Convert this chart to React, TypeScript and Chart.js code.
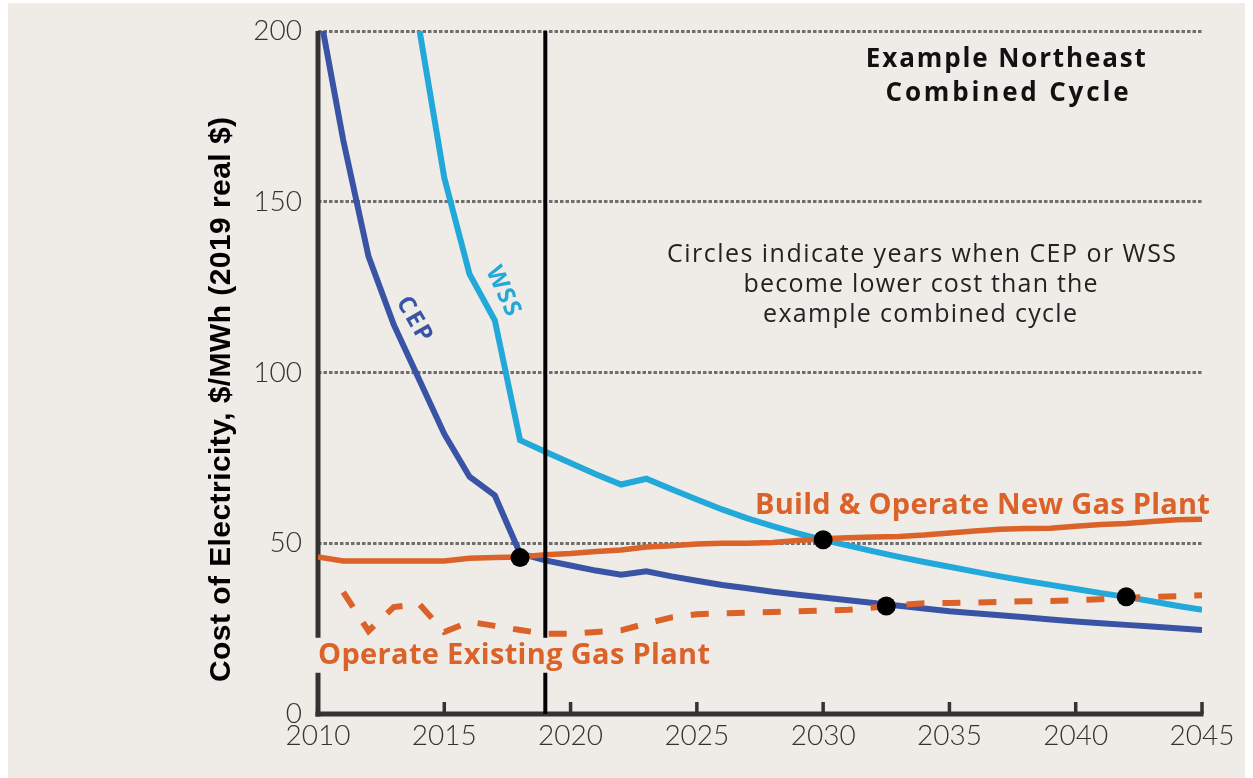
import React, { useEffect, useRef } from 'react';
import { Chart, registerables } from 'chart.js';

Chart.register(...registerables);

// ---------- data ----------
const years = [
  2010, 2011, 2012, 2013, 2014, 2015, 2016, 2017, 2018, 2019,
  2020, 2021, 2022, 2023, 2024, 2025, 2026, 2027, 2028, 2029,
  2030, 2031, 2032, 2033, 2034, 2035, 2036, 2037, 2038, 2039,
  2040, 2041, 2042, 2043, 2044, 2045,
];

const cepValues = [
  208, 168, 134, 114, 98, 82, 69.5, 64, 47, 45,
  43.5, 42, 40.8, 41.8, 40.3, 39, 37.8, 36.8, 35.8, 34.9,
  34.1, 33.3, 32.5, 31.7, 30.9, 30.1, 29.5, 28.9, 28.3, 27.7,
  27.1, 26.6, 26.1, 25.6, 25.1, 24.6,
];

const wssValues: (number | null)[] = [
  null, null, null, null, 201, 157, 128.8, 115.3, 80.2, 76.8,
  73.5, 70.2, 67.2, 68.9, 65.8, 62.8, 59.9, 57.3, 55, 52.9,
  51, 49.3, 47.6, 46, 44.5, 43.1, 41.7, 40.3, 39, 37.8,
  36.6, 35.4, 34.3, 33, 31.7, 30.5,
];

const newGasValues = [
  46, 44.8, 44.8, 44.8, 44.8, 44.8, 45.6, 45.8, 46, 46.6,
  47, 47.6, 48, 48.9, 49.3, 49.8, 50, 50, 50.2, 50.8,
  51.3, 51.6, 51.8, 52, 52.4, 53, 53.6, 54.1, 54.3, 54.4,
  55, 55.5, 55.8, 56.4, 56.9, 57,
];

const existingGasValues: (number | null)[] = [
  null, 35.7, 24.3, 31.3, 32.3, 24, 27, 25.8, 24.6, 23.5,
  23.5, 24, 24.5, 26.5, 28.3, 29.2, 29.5, 29.7, 29.9, 30.1,
  30.3, 30.5, 31.2, 31.9, 32.4, 32.5, 32.6, 32.8, 33, 33.1,
  33.3, 33.6, 34, 34.3, 34.5, 34.8,
];

const crossoverYears = [2018, 2030, 2032.5, 2042];
const crossoverValues = [45.8, 51, 31.6, 34.3];

const markerYear = 2019;

const xTickValues = [2010, 2015, 2020, 2025, 2030, 2035, 2040, 2045];
const yTickValues = [0, 50, 100, 150, 200];

const yAxisTitle = 'Cost of Electricity, $/MWh (2019 real $)';
const chartTitleLines = ['Example Northeast', 'Combined Cycle'];
const noteLines = [
  'Circles indicate years when CEP or WSS',
  'become lower cost than the',
  'example combined cycle',
];
const newGasLabel = 'Build & Operate New Gas Plant';
const existingGasLabel = 'Operate Existing Gas Plant';
const cepLabel = 'CEP';
const wssLabel = 'WSS';

// ---------- styles ----------
const BG = '#efece8';
const CEP_COLOR = '#3a54a5';
const WSS_COLOR = '#22a9da';
const ORANGE = '#db6229';
const AXIS = '#333333';
const TEXT = '#222222';
const TICK_FONT = '"Lato", "Open Sans", sans-serif';
const NOTE_FONT = '"Open Sans", "Lato", sans-serif';

const toXY = (vals: (number | null)[]) =>
  years.map((x, i) => ({ x, y: vals[i] }));

// draw text starting at left x, stretched by letter spacing to a target width
function fitText(ctx: CanvasRenderingContext2D, text: string, left: number, y: number, target: number) {
  (ctx as any).letterSpacing = '0px';
  const w = ctx.measureText(text).width;
  const ls = text.length > 1 ? (target - w) / (text.length - 1) : 0;
  (ctx as any).letterSpacing = `${ls}px`;
  ctx.textAlign = 'left';
  ctx.fillText(text, left, y);
  (ctx as any).letterSpacing = '0px';
}

const decorPlugin = {
  id: 'decor',
  beforeDatasetsDraw(chart: any) {
    const { ctx, chartArea, scales } = chart;
    const xs = scales.x;
    const ys = scales.y;
    const x0 = xs.getPixelForValue(xTickValues[0]);
    const x1 = xs.getPixelForValue(xTickValues[xTickValues.length - 1]);
    const y0 = ys.getPixelForValue(0);
    ctx.save();
    ctx.strokeStyle = AXIS;
    ctx.lineCap = 'butt';
    ctx.lineWidth = 3.5;
    xTickValues.slice(1).forEach((v) => {
      const px = xs.getPixelForValue(v);
      ctx.beginPath();
      ctx.moveTo(px, y0);
      ctx.lineTo(px, y0 - 12);
      ctx.stroke();
    });
    ctx.lineWidth = 5;
    ctx.beginPath();
    ctx.moveTo(x0, chartArea.top);
    ctx.lineTo(x0, y0 + 2.5);
    ctx.stroke();
    ctx.beginPath();
    ctx.moveTo(x0 - 2.5, y0);
    ctx.lineTo(x1 + 1.5, y0);
    ctx.stroke();
    ctx.restore();
  },
  afterDraw(chart: any) {
    const { ctx, scales } = chart;
    const xs = scales.x;
    const ys = scales.y;
    const px = (v: number) => xs.getPixelForValue(v);
    const py = (v: number) => ys.getPixelForValue(v);
    ctx.save();
    ctx.textBaseline = 'middle';

    // y axis title (rotated)
    ctx.save();
    ctx.translate(214, 397);
    ctx.rotate(-Math.PI / 2);
    ctx.fillStyle = '#000';
    ctx.font = 'bold 30px "Liberation Sans", Arial, sans-serif';
    fitText(ctx, yAxisTitle, -282, 0, 565);
    ctx.restore();

    // title
    ctx.fillStyle = '#111';
    ctx.font = `bold 26px ${NOTE_FONT}`;
    fitText(ctx, chartTitleLines[0], px(2031.69), py(191.5), 280);
    fitText(ctx, chartTitleLines[1], px(2032.47), py(181.8), 243);

    // note
    ctx.fillStyle = TEXT;
    ctx.font = `25px ${NOTE_FONT}`;
    fitText(ctx, noteLines[0], px(2023.82), py(134.4), 509);
    fitText(ctx, noteLines[1], px(2026.85), py(125.6), 354);
    fitText(ctx, noteLines[2], px(2027.62), py(116.8), 314);

    // new gas label
    ctx.fillStyle = ORANGE;
    ctx.font = `bold 29px ${NOTE_FONT}`;
    fitText(ctx, newGasLabel, px(2027.3), py(61.1), 455);

    // existing gas label with background box
    const ex = px(2010);
    const ey = py(17.2);
    ctx.fillStyle = BG;
    ctx.fillRect(ex - 6, ey - 17.5, 404, 35);
    ctx.fillStyle = ORANGE;
    fitText(ctx, existingGasLabel, ex, ey, 392);

    // rotated series labels
    ctx.font = `bold 24px ${NOTE_FONT}`;
    ctx.save();
    ctx.translate(px(2013.8), py(115.6));
    ctx.rotate((60 * Math.PI) / 180);
    ctx.fillStyle = CEP_COLOR;
    fitText(ctx, cepLabel, -24, 0, 48);
    ctx.restore();
    ctx.save();
    ctx.translate(px(2017.32), py(123.8));
    ctx.rotate((65 * Math.PI) / 180);
    ctx.fillStyle = WSS_COLOR;
    fitText(ctx, wssLabel, -26, 0, 52);
    ctx.restore();

    ctx.restore();
  },
};

export default function App() {
  const canvasRef = useRef<HTMLCanvasElement | null>(null);

  useEffect(() => {
    const canvas = canvasRef.current;
    if (!canvas) return;
    const lineBase = {
      type: 'line' as const,
      pointRadius: 0,
      borderWidth: 5,
      tension: 0,
      fill: false,
      spanGaps: false,
    };
    const chart = new Chart(canvas, {
      type: 'line',
      data: {
        datasets: [
          {
            type: 'scatter',
            label: 'Crossover years',
            data: crossoverYears.map((x, i) => ({ x, y: crossoverValues[i] })),
            pointRadius: 9.5,
            pointBackgroundColor: '#000',
            pointBorderWidth: 0,
            showLine: false,
            order: 0,
          } as any,
          {
            ...lineBase,
            label: '2019',
            data: [
              { x: markerYear, y: 0 },
              { x: markerYear, y: 200 },
            ],
            borderColor: '#000',
            borderWidth: 4,
            order: 1,
          },
          {
            ...lineBase,
            label: 'Build & Operate New Gas Plant',
            data: toXY(newGasValues),
            borderColor: ORANGE,
            borderWidth: 5.5,
            order: 2,
          },
          {
            ...lineBase,
            label: 'Operate Existing Gas Plant',
            data: toXY(existingGasValues),
            borderColor: ORANGE,
            borderWidth: 6,
            borderDash: [18, 18],
            order: 3,
          },
          {
            ...lineBase,
            label: 'CEP',
            data: toXY(cepValues),
            borderColor: CEP_COLOR,
            borderWidth: 6,
            order: 4,
          },
          {
            ...lineBase,
            label: 'WSS',
            data: toXY(wssValues),
            borderColor: WSS_COLOR,
            borderWidth: 6,
            order: 5,
          },
        ],
      },
      options: {
        animation: false,
        responsive: false,
        devicePixelRatio: 1,
        layout: { padding: { top: 28, right: 43, left: 0, bottom: 0 } },
        plugins: {
          legend: { display: false },
          tooltip: { enabled: false },
        },
        scales: {
          x: {
            type: 'linear',
            min: 2010,
            max: 2045,
            afterBuildTicks: (s: any) => {
              s.ticks = xTickValues.map((value) => ({ value }));
            },
            afterFit: (s: any) => {
              s.height = 64;
            },
            grid: { display: false, drawTicks: false },
            border: { display: false },
            ticks: {
              autoSkip: false,
              maxRotation: 0,
              padding: 5,
              color: AXIS,
              font: { family: TICK_FONT, size: 28, weight: '300' },
              callback: (v: any) => String(v),
            },
          },
          y: {
            type: 'linear',
            min: 0,
            max: 200,
            afterBuildTicks: (s: any) => {
              s.ticks = yTickValues.map((value) => ({ value }));
            },
            afterFit: (s: any) => {
              s.width = 310;
            },
            grid: {
              color: '#6e6e6e',
              lineWidth: 3,
              drawTicks: true,
              tickLength: 16,
              tickColor: 'rgba(0,0,0,0)',
            },
            border: { display: false, dash: [3.5, 2] },
            ticks: {
              padding: 0,
              color: AXIS,
              font: { family: TICK_FONT, size: 28, weight: '300' },
              callback: (v: any) => String(v),
            },
          },
        },
      } as any,
      plugins: [decorPlugin],
    });
    return () => chart.destroy();
  }, []);

  return (
    <div
      style={{
        position: 'absolute',
        left: 8,
        top: 3,
        width: 1237,
        height: 775,
        background: BG,
      }}
    >
      <canvas ref={canvasRef} width={1237} height={775} style={{ display: 'block' }} />
    </div>
  );
}
